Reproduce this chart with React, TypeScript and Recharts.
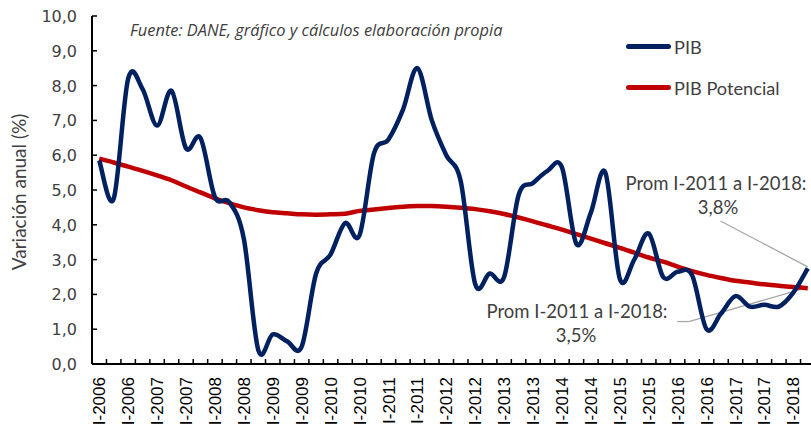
import { LineChart, Line, XAxis, YAxis, Legend, ReferenceLine } from 'recharts';

// PIB trimestral, variación anual (%)
const pib = [
  5.85, 4.75, 8.2, 7.9, 6.85, 7.85, 6.2, 6.5, 4.8, 4.65,
  3.6, 0.4, 0.85, 0.65, 0.5, 2.6, 3.15, 4.05, 3.7, 6.05,
  6.45, 7.3, 8.5, 7.0, 6.0, 5.25, 2.3, 2.6, 2.5, 4.85,
  5.2, 5.55, 5.65, 3.45, 4.35, 5.5, 2.45, 3.0, 3.75, 2.5,
  2.65, 2.55, 1.0, 1.45, 1.95, 1.65, 1.7, 1.65, 2.05, 2.75,
];

const potencial = [
  5.9, 5.79, 5.67, 5.55, 5.42, 5.28, 5.1, 4.93, 4.76, 4.62,
  4.5, 4.42, 4.36, 4.33, 4.3, 4.29, 4.3, 4.32, 4.4, 4.44,
  4.48, 4.52, 4.54, 4.54, 4.52, 4.49, 4.45, 4.39, 4.31, 4.21,
  4.1, 3.98, 3.86, 3.73, 3.6, 3.47, 3.34, 3.2, 3.06, 2.94,
  2.8, 2.67, 2.56, 2.47, 2.39, 2.34, 2.29, 2.25, 2.21, 2.18,
];

// etiquetas visibles (una cada dos trimestres)
const tickLabels = [
  'I-2006', 'I-2006', 'I-2007', 'I-2007', 'I-2008', 'I-2008', 'I-2009', 'I-2009',
  'I-2010', 'I-2010', 'I-2011', 'I-2011', 'I-2012', 'I-2012', 'I-2013', 'I-2013',
  'I-2014', 'I-2014', 'I-2015', 'I-2015', 'I-2016', 'I-2016', 'I-2017', 'I-2017',
  'I-2018',
];

const yTicks = [0, 1, 2, 3, 4, 5, 6, 7, 8, 9, 10];

const data = pib.map((v, i) => ({ idx: i, pib: v, potencial: potencial[i] }));
const xTicks = data.map(d => d.idx);

const CHART_W = 815;
const CHART_H = 429;
const Y_W = 92;
const BAND = (CHART_W - Y_W) / pib.length;

const BLUE = '#002060';
const RED = '#C00000';
const TEXT = '#404040';

// suavizado tipo Excel (Catmull-Rom)
function excelSmooth(context: any) {
  let pts: number[][] = [];
  return {
    areaStart() {},
    areaEnd() {},
    lineStart() { pts = []; },
    point(x: number, y: number) { pts.push([+x, +y]); },
    lineEnd() {
      if (!pts.length) return;
      context.moveTo(pts[0][0], pts[0][1]);
      for (let i = 0; i < pts.length - 1; i++) {
        const p0 = pts[i - 1] || pts[i];
        const p1 = pts[i];
        const p2 = pts[i + 1];
        const p3 = pts[i + 2] || p2;
        context.bezierCurveTo(
          p1[0] + (p2[0] - p0[0]) / 6, p1[1] + (p2[1] - p0[1]) / 6,
          p2[0] - (p3[0] - p1[0]) / 6, p2[1] - (p3[1] - p1[1]) / 6,
          p2[0], p2[1],
        );
      }
    },
  };
}

function YTick({ x, y, payload }: any) {
  return (
    <g>
      <line x1={x} x2={x + 5} y1={y} y2={y} stroke="#000" strokeWidth={1.5} />
      <text x={x - 15} y={y} dy={6} textAnchor="end" fill={TEXT}
        style={{ fontFamily: 'DejaVu Sans', fontSize: 16 }}>
        {payload.value.toFixed(1).replace('.', ',')}
      </text>
    </g>
  );
}

function XTick({ x, y, payload, index }: any) {
  const i = payload.value;
  const bx = x - BAND / 2;
  return (
    <g>
      {index > 0 && <line x1={bx} x2={bx} y1={y} y2={y - 5} stroke="#000" strokeWidth={1.5} />}
      {i % 2 === 0 && (
        <text x={x} y={y + 13} dy="0.36em" textAnchor="end" fill="#000"
          transform={`rotate(-90 ${x} ${y + 13})`}
          style={{ fontFamily: 'Liberation Sans', fontSize: 17 }}>
          {tickLabels[i / 2]}
        </text>
      )}
    </g>
  );
}

function LegendBox({ payload }: any) {
  return (
    <div style={{ fontFamily: 'Lato', fontSize: 18.2, color: TEXT }}>
      {(payload || []).map((p: any) => (
        <div key={p.value} style={{ display: 'flex', alignItems: 'center', height: 41 }}>
          <div style={{ width: 45, height: 4.5, borderRadius: 3, background: p.color, marginRight: 3 }} />
          <span>{p.value}</span>
        </div>
      ))}
    </div>
  );
}

export default function App() {
  return (
    <div style={{ position: 'absolute', left: 0, top: 0, width: 811, height: 429, overflow: 'hidden', background: '#fff' }}>
      <LineChart width={CHART_W} height={CHART_H} data={data}
        margin={{ top: 16, right: 0, bottom: 0, left: 0 }}>
        <XAxis dataKey="idx" type="number" domain={[-0.5, pib.length - 0.5]} ticks={xTicks}
          interval={0} height={65} tickSize={0} tickMargin={0} tick={<XTick />}
          axisLine={{ stroke: '#000', strokeWidth: 2 }} />
        <YAxis domain={[0, 10]} ticks={yTicks} width={Y_W} tickSize={0} tickMargin={0}
          tick={<YTick />} axisLine={{ stroke: '#000', strokeWidth: 2 }} />
        <Legend layout="vertical" align="center" verticalAlign="middle" content={<LegendBox />}
          wrapperStyle={{ left: 626, top: 26, width: 185, height: 82 }} />
        <ReferenceLine segment={[{ x: 42.96, y: 4.11 }, { x: 49, y: 2.79 }]} stroke="#A6A6A6" strokeWidth={1.3} />
        <ReferenceLine segment={[{ x: 39.97, y: 1.22 }, { x: 40.77, y: 1.22 }]} stroke="#A6A6A6" strokeWidth={1.3} />
        <ReferenceLine segment={[{ x: 40.77, y: 1.22 }, { x: 49, y: 2.2 }]} stroke="#A6A6A6" strokeWidth={1.3} />
        <Line dataKey="potencial" name="PIB Potencial" type={excelSmooth as any} stroke={RED}
          strokeWidth={4.5} dot={false} isAnimationActive={false} legendType="line" />
        <Line dataKey="pib" name="PIB" type={excelSmooth as any} stroke={BLUE}
          strokeWidth={4.5} dot={false} isAnimationActive={false} legendType="line" />
      </LineChart>
      <svg width={811} height={429} style={{ position: 'absolute', left: 0, top: 0, pointerEvents: 'none' }}>
        <text x={19} y={192} dy="0.35em" textAnchor="middle" fill={TEXT} transform="rotate(-90 19 192)"
          style={{ fontFamily: 'Lato', fontSize: 19 }}>Variación anual (%)</text>
        <text x={130} y={36} fill={TEXT} style={{ fontFamily: 'Open Sans', fontSize: 16.4, fontStyle: 'italic' }}>
          Fuente: DANE, gráfico y cálculos elaboración propia
        </text>
        <g fill={TEXT} textAnchor="middle" style={{ fontFamily: 'Lato', fontSize: 18.5 }}>
          <text x={716} y={190}>Prom I-2011 a I-2018:</text>
          <text x={718} y={214}>3,8%</text>
          <text x={577} y={318}>Prom I-2011 a I-2018:</text>
          <text x={576} y={342}>3,5%</text>
        </g>
      </svg>
    </div>
  );
}
